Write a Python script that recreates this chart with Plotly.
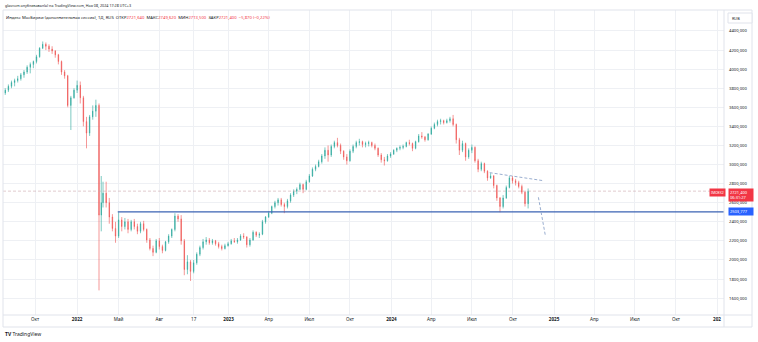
import plotly.graph_objects as go
import pandas as pd

# ---------------- data (weekly candles) ----------------
week_dates = (list(pd.date_range("2021-07-19", "2022-02-21", freq="W-MON").strftime("%Y-%m-%d"))
              + ["2022-03-24"]
              + list(pd.date_range("2022-03-28", "2024-11-04", freq="W-MON").strftime("%Y-%m-%d")))

opens = [3740, 3750, 3780, 3820, 3860, 3880, 3900, 3940, 3970, 4020, 4050, 4080, 4130, 4220, 4260, 4240,
         4210, 4190, 4150, 4080, 3970, 3930, 3620, 3700, 3780, 3830, 3700, 3450, 3330, 3500, 3560, 3620,
         2470, 2600, 2700, 2600, 2450, 2330, 2250, 2420, 2350, 2400, 2320, 2400, 2350, 2300, 2380, 2320,
         2210, 2120, 2080, 2200, 2140, 2100, 2190, 2250, 2320, 2460, 2430, 2200, 1900, 1980, 1880, 1970,
         2060, 2130, 2190, 2210, 2180, 2200, 2170, 2140, 2120, 2150, 2170, 2200, 2190, 2210, 2250, 2240,
         2160, 2210, 2290, 2260, 2270, 2400, 2450, 2490, 2560, 2600, 2630, 2580, 2560, 2620, 2680, 2720,
         2740, 2790, 2740, 2820, 2880, 2950, 2980, 3030, 3090, 3150, 3100, 3190, 3230, 3200, 3140, 3080,
         3040, 3140, 3190, 3230, 3240, 3210, 3220, 3230, 3200, 3170, 3100, 3050, 3040, 3090, 3110, 3150,
         3170, 3180, 3190, 3230, 3220, 3170, 3240, 3300, 3290, 3260, 3320, 3380, 3420, 3450, 3460, 3440,
         3460, 3480, 3420, 3260, 3150, 3220, 3080, 3150, 3180, 3040, 2950, 3010, 2930, 2860, 2880, 2780,
         2650, 2560, 2650, 2760, 2860, 2830, 2810, 2770, 2710, 2590]
highs = [3770, 3800, 3840, 3880, 3900, 3930, 3960, 3990, 4040, 4070, 4090, 4150, 4230, 4290, 4280, 4260,
         4240, 4200, 4160, 4090, 3990, 3940, 3720, 3800, 3880, 3870, 3720, 3500, 3520, 3620, 3680, 3640,
         2880, 2820, 2820, 2650, 2480, 2400, 2500, 2450, 2440, 2430, 2420, 2430, 2380, 2400, 2410, 2330,
         2230, 2150, 2220, 2230, 2160, 2200, 2270, 2330, 2490, 2480, 2470, 2220, 2050, 2000, 2000, 2080,
         2150, 2220, 2240, 2230, 2220, 2210, 2190, 2160, 2170, 2190, 2220, 2230, 2230, 2270, 2280, 2250,
         2230, 2310, 2300, 2290, 2420, 2460, 2510, 2570, 2620, 2650, 2650, 2600, 2640, 2700, 2740, 2760,
         2810, 2800, 2840, 2900, 2970, 3000, 3050, 3110, 3180, 3200, 3210, 3250, 3280, 3220, 3150, 3110,
         3160, 3210, 3250, 3270, 3250, 3240, 3250, 3240, 3220, 3180, 3120, 3080, 3110, 3130, 3160, 3180,
         3200, 3210, 3240, 3260, 3230, 3250, 3320, 3340, 3300, 3330, 3400, 3440, 3470, 3480, 3470, 3480,
         3500, 3520, 3430, 3280, 3250, 3230, 3170, 3210, 3190, 3060, 3030, 3020, 2940, 2910, 2890, 2790,
         2660, 2680, 2780, 2880, 2880, 2850, 2830, 2790, 2720, 2749.62]
lows = [3700, 3730, 3760, 3800, 3820, 3860, 3880, 3910, 3950, 3956, 4010, 4060, 4120, 4210, 4200, 4180,
        4160, 4120, 4050, 3940, 3900, 3600, 3362, 3690, 3750, 3640, 3400, 3170, 3300, 3470, 3500, 1681,
        2300, 2550, 2550, 2380, 2300, 2180, 2230, 2300, 2320, 2280, 2300, 2320, 2270, 2280, 2300, 2180,
        2100, 2040, 2070, 2110, 2070, 2090, 2170, 2230, 2300, 2400, 2160, 1840, 1850, 1780, 1860, 1950,
        2040, 2110, 2160, 2160, 2160, 2150, 2120, 2100, 2110, 2140, 2160, 2180, 2170, 2200, 2220, 2130,
        2140, 2200, 2240, 2230, 2260, 2380, 2440, 2480, 2540, 2570, 2560, 2490, 2540, 2600, 2660, 2690,
        2730, 2700, 2730, 2810, 2870, 2930, 2970, 3010, 3060, 3030, 3080, 3170, 3180, 3110, 3050, 3000,
        3030, 3120, 3170, 3200, 3180, 3180, 3190, 3180, 3150, 3080, 3020, 2990, 3030, 3070, 3100, 3130,
        3150, 3160, 3180, 3200, 3140, 3160, 3230, 3270, 3240, 3250, 3310, 3370, 3400, 3420, 3420, 3430,
        3440, 3400, 3220, 3100, 3130, 3040, 3060, 3120, 3020, 2920, 2930, 2910, 2830, 2850, 2750, 2620,
        2500, 2540, 2640, 2750, 2800, 2780, 2750, 2690, 2560, 2540]
closes = [3750, 3780, 3820, 3860, 3880, 3900, 3940, 3970, 4020, 4050, 4080, 4130, 4220, 4260, 4240, 4210,
          4190, 4150, 4080, 3970, 3930, 3620, 3700, 3780, 3830, 3700, 3450, 3330, 3500, 3560, 3620, 2470,
          2600, 2700, 2600, 2450, 2330, 2250, 2420, 2350, 2400, 2320, 2400, 2350, 2300, 2380, 2320, 2210,
          2120, 2080, 2200, 2140, 2100, 2190, 2250, 2320, 2460, 2430, 2200, 1900, 1980, 1880, 1970, 2060,
          2130, 2190, 2210, 2180, 2200, 2170, 2140, 2120, 2150, 2170, 2200, 2190, 2210, 2250, 2240, 2160,
          2210, 2290, 2260, 2270, 2400, 2450, 2490, 2560, 2600, 2630, 2580, 2560, 2620, 2680, 2720, 2740,
          2790, 2740, 2820, 2880, 2950, 2980, 3030, 3090, 3150, 3100, 3190, 3230, 3200, 3140, 3080, 3040,
          3140, 3190, 3230, 3240, 3210, 3220, 3230, 3200, 3170, 3100, 3050, 3040, 3090, 3110, 3150, 3170,
          3180, 3190, 3230, 3220, 3170, 3240, 3300, 3290, 3260, 3320, 3380, 3420, 3450, 3460, 3440, 3460,
          3480, 3420, 3260, 3150, 3220, 3080, 3150, 3180, 3040, 2950, 3010, 2930, 2860, 2880, 2780, 2650,
          2560, 2650, 2760, 2860, 2830, 2810, 2770, 2710, 2590, 2721.4]

assert len(week_dates) == len(opens) == len(highs) == len(lows) == len(closes)

# last daily bar shown in the header
day_open, day_high, day_low, day_close = 2721.640, 2749.620, 2713.500, 2721.400
day_change, day_change_pct = -5.870, -0.22

# drawings
support_level = 2503.777
support_dates = ["2022-04-30", "2026-01-17"]
trend1_dates = ["2024-08-10", "2024-12-08"]
trend1_values = [2915, 2831]
trend2_dates = ["2024-11-27", "2024-12-13"]
trend2_values = [2657, 2245]

# axes
y_ticks = [1600, 1800, 2000, 2200, 2400, 2600, 2800, 3000, 3200, 3400, 3600, 3800, 4000, 4200, 4400]
x_tick_dates = ["2021-10-01", "2022-01-03", "2022-05-02", "2022-08-01", "2022-10-17", "2023-01-03",
                "2023-04-03", "2023-07-03", "2023-10-02", "2024-01-03", "2024-04-01", "2024-07-01",
                "2024-10-01", "2025-01-01", "2025-04-01", "2025-07-01", "2025-10-01", "2026-01-01"]
x_tick_labels = ["Окт", "<b>2022</b>", "Май", "Авг", "17", "<b>2023</b>", "Апр", "Июл", "Окт",
                 "<b>2024</b>", "Апр", "Июл", "Окт", "<b>2025</b>", "Апр", "Июл", "Окт", "<b>202</b>"]

header_line1 = "glavcom опубликовал(а) на TradingView.com, Ноя 08, 2024 17:28 UTC+3"
symbol_title = "Индекс МосБиржи (дополнительная сессия), 1Д, RUS"
symbol_short = "IMOEX2"
countdown = "06:31:27"

# ---------------- figure ----------------
W, H = 758, 342
PL, PR, PT, PB = 3, 724, 10, 315
UP, DOWN = "#26a69a", "#ef5350"
RED, BLUE = "#F23645", "#2962FF"
TXT = "#131722"
GRID = "#eef0f4"
BORDER = "#e0e3eb"
FONT = "Noto Sans"


def fx(px):
    return (px - PL) / (PR - PL)


def fy(py):
    return (PB - py) / (PB - PT)


def ru(v):
    return f"{v:.3f}".replace(".", ",")


fig = go.Figure()

fig.add_trace(go.Candlestick(
    x=week_dates, open=opens, high=highs, low=lows, close=closes,
    increasing=dict(line=dict(color=UP, width=0.6), fillcolor=UP),
    decreasing=dict(line=dict(color=DOWN, width=0.6), fillcolor=DOWN),
    whiskerwidth=0, showlegend=False, hoverinfo="skip"))

fig.add_trace(go.Scatter(x=support_dates, y=[support_level, support_level], mode="lines",
                         line=dict(color="#3b63b3", width=1.1), showlegend=False, hoverinfo="skip"))
fig.add_trace(go.Scatter(x=trend1_dates, y=trend1_values, mode="lines",
                         line=dict(color="#9aaed0", width=1, dash="3px,2px"), showlegend=False, hoverinfo="skip"))
fig.add_trace(go.Scatter(x=trend2_dates, y=trend2_values, mode="lines",
                         line=dict(color="#9aaed0", width=1, dash="3px,2px"), showlegend=False, hoverinfo="skip"))

shapes = [
    dict(type="line", xref="paper", yref="y", x0=0, x1=fx(711), y0=day_close, y1=day_close,
         line=dict(color="rgba(200,160,165,0.55)", width=1, dash="3px,2px")),
    dict(type="line", xref="paper", yref="paper", x0=1, x1=1, y0=fy(327), y1=1, line=dict(color=BORDER, width=1)),
    dict(type="line", xref="paper", yref="paper", x0=fx(3), x1=fx(752), y0=0, y1=0, line=dict(color=BORDER, width=1)),
    dict(type="line", xref="paper", yref="paper", x0=fx(3), x1=fx(752), y0=1, y1=1, line=dict(color=BORDER, width=1)),
    dict(type="line", xref="paper", yref="paper", x0=fx(3), x1=fx(752), y0=fy(327), y1=fy(327), line=dict(color=BORDER, width=1)),
    dict(type="line", xref="paper", yref="paper", x0=fx(752), x1=fx(752), y0=fy(327), y1=1, line=dict(color=BORDER, width=1)),
    dict(type="line", xref="paper", yref="paper", x0=0, x1=0, y0=fy(327), y1=1, line=dict(color=BORDER, width=1)),
    dict(type="rect", xref="paper", yref="paper", x0=fx(728), x1=fx(752), y0=fy(23), y1=fy(13),
         line=dict(color=BORDER, width=1), fillcolor="white"),
]

annotations = [
    dict(text=header_line1, xref="paper", yref="paper", x=fx(3), y=fy(6), xanchor="left", yanchor="middle",
         showarrow=False, font=dict(size=3.7, color=TXT, family=FONT)),
    dict(text=(f"{symbol_title}&nbsp;&nbsp;ОТКР<span style='color:{RED}'>{ru(day_open)}</span>&nbsp;&nbsp;"
               f"МАКС<span style='color:{RED}'>{ru(day_high)}</span>&nbsp;&nbsp;"
               f"МИН<span style='color:{RED}'>{ru(day_low)}</span>&nbsp;&nbsp;"
               f"ЗАКР<span style='color:{RED}'>{ru(day_close)}</span>&nbsp;&nbsp;"
               f"<span style='color:{RED}'>{ru(day_change)} ({day_change_pct:.2f}%)</span>").replace("-", "−").replace("0.22", "0,22"),
         xref="paper", yref="paper", x=fx(4), y=fy(17), xanchor="left", yanchor="middle",
         showarrow=False, font=dict(size=4.2, color=TXT, family=FONT)),
    dict(text="RUB", xref="paper", yref="paper", x=fx(730), y=fy(18), xanchor="left", yanchor="middle",
         showarrow=False, font=dict(size=3.8, color=TXT, family=FONT)),
    dict(text=f"{ru(day_close)}<br>{countdown}", xref="paper", yref="y", x=fx(727.5), y=day_close,
         xanchor="left", yanchor="middle", yshift=-4, showarrow=False, align="left",
         bgcolor=RED, borderpad=1, width=22, font=dict(size=4, color="white", family=FONT)),
    dict(text=ru(support_level), xref="paper", yref="y", x=fx(727.5), y=support_level,
         xanchor="left", yanchor="middle", showarrow=False, align="left",
         bgcolor=BLUE, borderpad=1, width=22, font=dict(size=4, color="white", family=FONT)),
    dict(text=symbol_short, xref="paper", yref="y", x=fx(726), y=day_close, xanchor="right", yanchor="middle",
         yshift=-1, showarrow=False, bgcolor=RED, borderpad=1, font=dict(size=3.4, color="white", family=FONT)),
    dict(text="<b>TV</b> TradingView", xref="paper", yref="paper", x=fx(3), y=fy(334), xanchor="left",
         yanchor="middle", showarrow=False, font=dict(size=5, color=TXT, family=FONT)),
]

fig.update_layout(
    width=W, height=H,
    margin=dict(l=PL, r=W - PR, t=PT, b=H - PB),
    paper_bgcolor="white", plot_bgcolor="white",
    separators=", ",
    boxgap=0.6,
    showlegend=False,
    shapes=shapes, annotations=annotations,
    font=dict(family=FONT, color=TXT),
    xaxis=dict(type="date", range=["2021-07-21", "2026-01-16 16:00"],
               rangebreaks=[dict(bounds=["2022-02-26", "2022-03-24"])],
               rangeslider=dict(visible=False),
               tickmode="array", tickvals=x_tick_dates, ticktext=x_tick_labels,
               tickfont=dict(size=4.6, color=TXT, family=FONT), ticks="",
               showgrid=True, gridcolor=GRID, gridwidth=1, zeroline=False, showline=False, fixedrange=True),
    yaxis=dict(side="right", range=[1423, 4620], tickmode="array", tickvals=y_ticks, tickformat=".3f",
               tickfont=dict(size=4.2, color=TXT, family=FONT), ticks="", ticklabelstandoff=4,
               showgrid=True, gridcolor=GRID, gridwidth=1, zeroline=False, showline=False, fixedrange=True),
)

fig.write_html("out.html", config={"displayModeBar": False})
